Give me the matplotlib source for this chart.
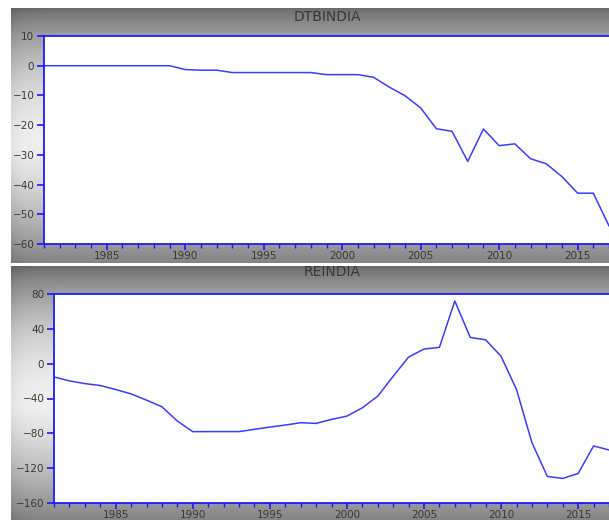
import numpy as np
import matplotlib
matplotlib.use('Agg')
import matplotlib.pyplot as plt

plt.rcParams['font.family'] = ['DejaVu Sans']

years = list(range(1981, 2018))

# DTBINDIA, 1981-2017
dtb = [0, 0, 0, 0, 0, 0, 0, 0, 0, -1.3,
       -1.5, -1.5, -2.3, -2.3, -2.3, -2.3, -2.3, -2.3, -3.0, -3.0,
       -3.0, -3.9, -7.2, -10.1, -14.2, -21.2, -22.1, -32.2, -21.3, -26.9,
       -26.3, -31.3, -33.0, -37.3, -42.9, -42.9, -53.9]

# REINDIA, 1981-2017
rei = [-15.2, -19.8, -22.9, -25.1, -29.7, -34.7, -41.9, -49.5, -65.9, -78.1,
       -78.0, -78.0, -78.0, -75.4, -72.8, -70.5, -67.8, -68.6, -64.0, -60.2,
       -50.7, -37.3, -14.5, 7.6, 16.8, 18.7, 72.0, 30.1, 27.4, 8.4,
       -29.7, -90.6, -129.5, -131.8, -126.1, -94.5, -99.1]

titles = ['DTBINDIA', 'REINDIA']
yticks_top = [10, 0, -10, -20, -30, -40, -50, -60]
yticks_bot = [80, 40, 0, -40, -80, -120, -160]
xticks = [1985, 1990, 1995, 2000, 2005, 2010, 2015]

W, H = 609, 520
fig = plt.figure(figsize=(W / 100, H / 100), dpi=100)
BLUE = '#1a1aff'
LINE = '#3c3cff'
TXT = '#383838'


def px(x0, y0, x1, y1):
    # pixel box (top-left origin) -> figure fraction rect
    return [x0 / W, 1 - y1 / H, (x1 - x0) / W, (y1 - y0) / H]


def gray_panel(box):
    bg = fig.add_axes(px(*box), zorder=0)
    t = np.linspace(0, 1, 256)[:, None]
    s = np.linspace(0, 1, 200)[None, :]
    v = 0.42 + 0.52 * np.sin(np.clip(t / 0.55, 0, 1) * np.pi / 2) ** 0.8
    v = np.where(t > 0.55, 0.94 - 0.42 * ((t - 0.55) / 0.45) ** 1.3, v)
    v = v - 0.05 * np.exp(-s / 0.015)
    img = np.repeat(np.clip(v, 0, 1)[:, :, None], 3, axis=2)
    bg.imshow(img, aspect='auto', extent=[0, 1, 0, 1], interpolation='bilinear')
    bg.set_axis_off()


def panel(rect, y, ylim, yticks):
    ax = fig.add_axes(px(*rect), zorder=2)
    ax.set_facecolor('white')
    ax.plot(years, y, color=LINE, lw=1.1)
    ax.set_xlim(1981, 2017)
    ax.set_ylim(*ylim)
    ax.set_yticks(yticks)
    ax.set_xticks(xticks)
    ax.set_xticks(years, minor=True)
    for sp in ['left', 'top', 'bottom']:
        ax.spines[sp].set_color(BLUE)
        ax.spines[sp].set_linewidth(1.3)
    ax.spines['right'].set_visible(False)
    ax.tick_params(axis='y', direction='out', length=5, width=1.2, color=BLUE,
                   labelsize=7.5, labelcolor=TXT, pad=2)
    ax.tick_params(axis='x', which='major', direction='out', length=4, width=1.2,
                   color=BLUE, labelsize=7.5, labelcolor=TXT, pad=1)
    ax.tick_params(axis='x', which='minor', direction='out', length=3, width=1.0,
                   color=BLUE)
    return ax


gray_panel((11, 8, 609, 263))
gray_panel((11, 266, 609, 520))

panel((44, 36, 609, 244), dtb, (-60, 10), yticks_top)
panel((54, 294, 609, 503), rei, (-160, 80), yticks_bot)

fig.text(327 / W, 1 - 17 / H, titles[0], ha='center', va='center',
         fontsize=10, color=TXT, zorder=5)
fig.text(332 / W, 1 - 272 / H, titles[1], ha='center', va='center',
         fontsize=10, color=TXT, zorder=5)

fig.savefig('out.png', dpi=100, facecolor='white')
